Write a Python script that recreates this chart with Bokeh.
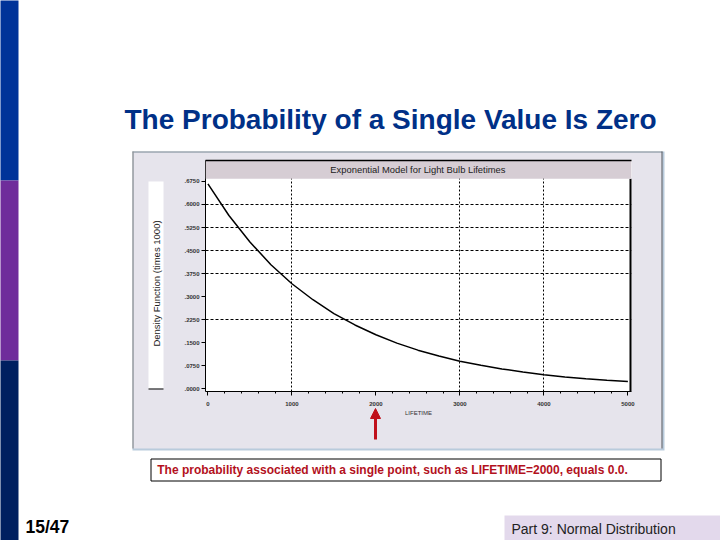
from bokeh.plotting import figure
from bokeh.layouts import column
from bokeh.embed import file_html
from bokeh.resources import INLINE
from bokeh.core.properties import value
from bokeh.models import Range1d, FixedTicker, BoxAnnotation, Label, Grid

lifetime = [0, 250, 500, 750, 1000, 1250, 1500, 1750, 2000, 2250, 2500, 2750, 3000,
            3250, 3500, 3750, 4000, 4250, 4500, 4750, 5000]
density = [.667, .564, .478, .404, .342, .290, .245, .208, .176, .149, .126, .107, .090,
           .077, .065, .055, .046, .039, .033, .028, .024]
x_ticks = [0, 1000, 2000, 3000, 4000, 5000]
x_minor = [200, 400, 600, 800, 1200, 1400, 1600, 1800, 2200, 2400, 2600, 2800,
           3200, 3400, 3600, 3800, 4200, 4400, 4600, 4800]
y_ticks = [0, .075, .15, .225, .3, .375, .45, .525, .6, .675]
y_labels = [".0000", ".0750", ".1500", ".2250", ".3000", ".3750", ".4500", ".5250", ".6000", ".6750"]
x_grid = [1000, 3000, 4000]
y_grid = [.225, .375, .45, .525, .6]

W, H = 720, 540
FONT = "Liberation Sans"
Y_TOP, BAND = 0.743, 0.684
X_MIN, X_MAX = -29, 5043

# slide background: a figure whose scales are the slide's pixels
bg = figure(width=W, height=H, output_backend="svg", toolbar_location=None,
            x_range=Range1d(0, W), y_range=Range1d(H, 0),
            x_axis_type=None, y_axis_type=None, min_border=0,
            outline_line_color=None, border_fill_color="white", background_fill_color="white")
bg.grid.visible = False


def box(l, r, t, b, fill, line=None, lw=1):
    bg.quad(left=[l], right=[r], top=[t], bottom=[b], fill_color=fill, line_color=line, line_width=lw)


def text(x, y, s, size, color="black", style="normal", align="left", angle=0):
    bg.text(x=[x], y=[y], text=[s], text_font=value(FONT), text_font_size=f"{size}px",
            text_color=color, text_font_style=style, text_align=align, text_baseline="middle",
            angle=angle, angle_units="deg")


box(-2, 18, -2, 180, "#003399")
box(-2, 18, 180, 360, "#6f2c9b")
box(-2, 18, 360, 542, "#002060")
box(504, 722, 515, 542, "#e3d9ec")
box(132, 664, 151, 450, "#b9cbdc")
box(133, 662, 152, 448, "#e6e4ec")
box(132, 133, 151, 448, "#808080")
box(132, 662, 151, 152, "#8c9499")
box(661, 662, 151, 448, "#50565c")
box(148, 163, 181, 388, "white")
box(148, 163, 388, 389, "black")
box(150.5, 660.5, 458.5, 480.5, "white", "black", 1)

text(124, 118.5, "The Probability of a Single Value Is Zero", 28, "#003087", "bold")
text(392, 469, "The probability associated with a single point, such as LIFETIME=2000, equals 0.0.",
     12, "#b3111d", "bold", "center")
text(25, 526, "15/47", 17.5, "black", "bold")
text(511, 528, "Part 9: Normal Distribution", 14, "#222222")
text(156, 283, "Density Function (times 1000)", 9.5, "#222222", "normal", "center", angle=90)

# red arrow below LIFETIME = 2000
ax = 375
bg.segment(x0=[ax], y0=[439], x1=[ax], y1=[416], line_color="#c0101c", line_width=3)
bg.patch(x=[ax - 5, ax, ax + 5], y=[418, 408, 418], fill_color="#c0101c", line_color="#c0101c")

# the chart, laid over the panel
CL, CR, CT, CB = 170, 640, 155, 425      # its canvas in slide pixels
FL, FR, FT, FB = 205, 631, 160, 391      # its frame in slide pixels
p = figure(width=CR - CL, height=CB - CT, output_backend="svg", toolbar_location=None,
           frame_width=FR - FL, frame_height=FB - FT,
           x_range=Range1d(X_MIN, X_MAX), y_range=Range1d(-0.0085, Y_TOP),
           min_border_left=FL - CL, min_border_right=CR - FR,
           min_border_top=FT - CT, min_border_bottom=CB - FB,
           border_fill_color=None, background_fill_color="white", outline_line_color=None)
p.grid.visible = False

xa = p.xaxis[0]
xa.ticker = FixedTicker(ticks=x_ticks, minor_ticks=x_minor)
ya = p.yaxis[0]
ya.ticker = FixedTicker(ticks=y_ticks)
ya.major_label_overrides = dict(zip(y_ticks, y_labels))
for a in (xa, ya):
    a.major_label_text_font = FONT
    a.major_label_text_font_size = "6px"
    a.major_label_text_font_style = "bold"
    a.major_label_text_color = "#333333"
    a.axis_line_color = "black"
    a.major_tick_line_color = "black"
    a.minor_tick_line_color = "black"
    a.major_tick_out = 4
    a.major_tick_in = 0
    a.minor_tick_out = 2
    a.minor_tick_in = 0
xa.major_label_standoff = 6
ya.major_label_standoff = 2
xa.axis_label = "LIFETIME"
xa.axis_label_text_font = FONT
xa.axis_label_text_font_size = "6px"
xa.axis_label_text_font_style = "normal"
xa.axis_label_text_color = "#333333"
xa.axis_label_standoff = 1

p.add_layout(Grid(dimension=0, ticker=FixedTicker(ticks=x_grid), grid_line_color="black",
                  grid_line_dash="2 2", grid_line_width=1))
p.add_layout(Grid(dimension=1, ticker=FixedTicker(ticks=y_grid), grid_line_color="black",
                  grid_line_dash="3 2", grid_line_width=1))

p.line(lifetime, density, line_color="black", line_width=1.5)
p.segment(x0=[X_MAX], y0=[-0.0085], x1=[X_MAX], y1=[BAND], line_color="black", line_width=4)

p.add_layout(BoxAnnotation(top=Y_TOP, bottom=BAND, fill_color="#d6cdd4", fill_alpha=1, line_color=None))
p.segment(x0=[X_MIN], y0=[Y_TOP], x1=[X_MAX], y1=[Y_TOP], line_color="black", line_width=1.5, level="overlay")
p.add_layout(Label(x=2500, y=(Y_TOP + BAND) / 2, text="Exponential Model for Light Bulb Lifetimes",
                   text_font=FONT, text_font_size="9.4px", text_color="#222222",
                   text_align="center", text_baseline="middle"))

page = column(bg, column(p, margin=(-(H - CT), 0, 0, CL)), spacing=0)
open("out.html", "w").write(file_html(page, INLINE))
